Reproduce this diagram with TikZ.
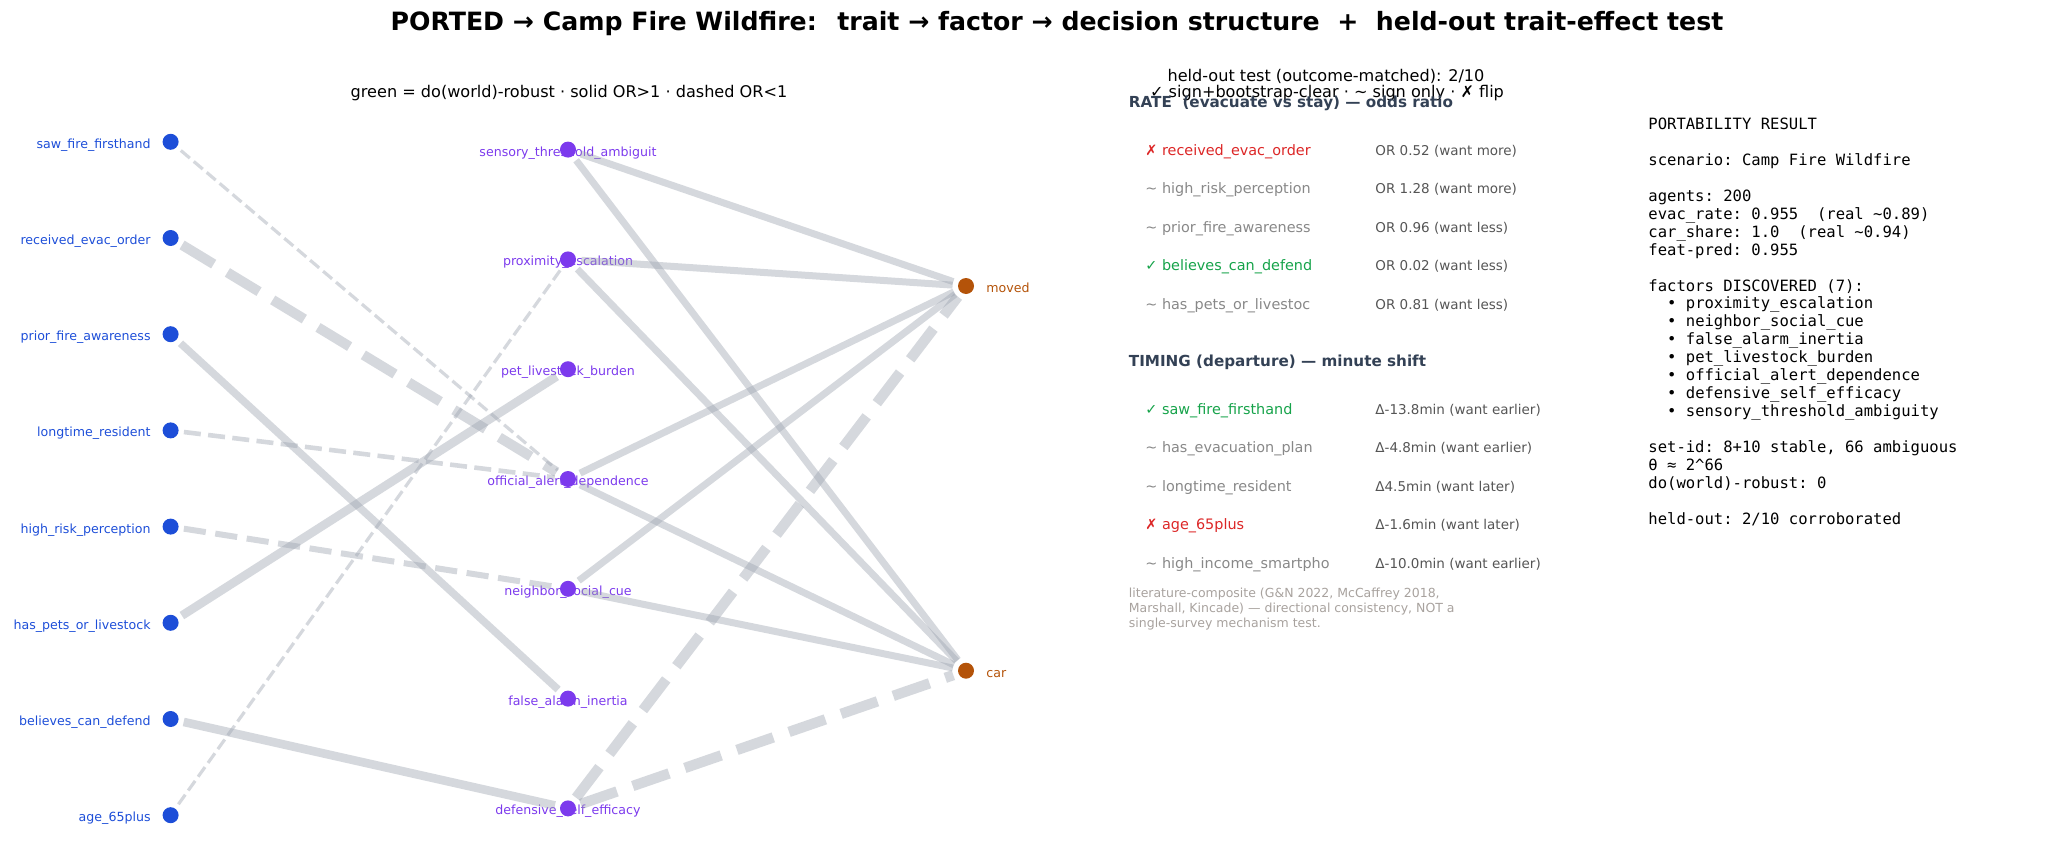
\documentclass[tikz,border=0pt]{standalone}
\usepackage{fontspec}
\setmainfont{DejaVu Sans}
\setmonofont{DejaVu Sans Mono}
\definecolor{traitblue}{HTML}{1D4ED8}
\definecolor{factorpurple}{HTML}{7C3AED}
\definecolor{outcomeorange}{HTML}{B45309}
\definecolor{edgegray}{HTML}{9CA3AF}
\definecolor{headslate}{HTML}{334155}
\definecolor{okgreen}{HTML}{16A34A}
\definecolor{badred}{HTML}{DC2626}
\definecolor{signgray}{HTML}{888888}
\definecolor{valgray}{HTML}{555555}
\definecolor{notegray}{HTML}{A8A29E}
\tikzset{
  dot/.style={circle,inner sep=0pt,minimum size=8pt},
  trait/.style={dot,fill=traitblue},
  factor/.style={dot,fill=factorpurple},
  outcome/.style={dot,fill=outcomeorange},
  lab/.style={inner sep=0pt,font=\fontsize{6.3}{7.5}\selectfont,text height=1.6ex,text depth=.4ex},
  link/.style={draw=edgegray,draw opacity=.42,line width=#1,shorten <=2.5pt,shorten >=2.5pt},
  neg/.style={link=#1,dash pattern=on 3.7*#1 off 1.6*#1},
  head/.style={anchor=west,inner sep=0pt,text=headslate,font=\fontsize{7.6}{9}\selectfont\bfseries},
  rowtxt/.style={anchor=west,inner sep=0pt,font=\fontsize{7.2}{8.6}\selectfont,text height=1.6ex,text depth=.4ex},
  valtxt/.style={anchor=west,inner sep=0pt,text=valgray,font=\fontsize{6.75}{8}\selectfont,text height=1.6ex,text depth=.4ex},
  caption/.style={inner sep=0pt,font=\fontsize{8.05}{9.6}\selectfont}
}

\begin{document}
\begin{tikzpicture}[x=0.5pt,y=-0.5pt]
\useasboundingbox (0,0) rectangle (2058,862);
\node[inner sep=0pt,font=\fontsize{12.6}{15}\selectfont\bfseries] (ttl) at (1057,24)
  {PORTED → Camp Fire Wildfire: \ trait → factor → decision structure \ + \ held-out trait-effect test};
\node[caption] (legend) at (569,93) {green = do(world)-robust · solid OR>1 · dashed OR<1};
\node[caption] (held) at (1326,76) {held-out test (outcome-matched): 2/10};
\node[caption] (key) at (1327,93) {✓ sign+bootstrap-clear · \textasciitilde\ sign only · ✗ flip};

% labels first, dots on top
\foreach \nm [count=\i] in {saw\_fire\_firsthand,received\_evac\_order,prior\_fire\_awareness,longtime\_resident,
  high\_risk\_perception,has\_pets\_or\_livestock,believes\_can\_defend,age\_65plus}
  \node[lab,anchor=east,text=traitblue] (tl\i) at (151,{141.8+(\i-1)*96.2}) {\nm};
\foreach \nm [count=\i] in {sensory\_threshold\_ambiguit,proximity\_escalation,pet\_livestock\_burden,
  official\_alert\_dependence,neighbor\_social\_cue,false\_alarm\_inertia,defensive\_self\_efficacy}
  \node[lab,text=factorpurple] (fl\i) at (568,{149.6+(\i-1)*109.8}) {\nm};
\node[lab,anchor=west,text=outcomeorange] (ml) at (986,286) {moved};
\node[lab,anchor=west,text=outcomeorange] (cl) at (986,670.7) {car};

\foreach \i in {1,...,8}
  \node[trait] (t\i) at (170.6,{141.8+(\i-1)*96.2}) {};
\foreach \i in {1,...,7}
  \node[factor] (f\i) at (568,{149.6+(\i-1)*109.8}) {};
\node[outcome] (moved) at (966,286) {};
\node[outcome] (car) at (966,670.7) {};

% trait -> factor
\draw[neg=1.6pt] (t1) -- (f4);
\draw[neg=5pt] (t2) -- (f4);
\draw[link=3.8pt] (t3) -- (f6);
\draw[neg=2.3pt] (t4) -- (f4);
\draw[neg=3pt] (t5) -- (f5);
\draw[link=4.3pt] (t6) -- (f3);
\draw[link=4.3pt] (t7) -- (f7);
\draw[neg=1.6pt] (t8) -- (f2);

% factor -> outcome
\foreach \f in {1,2,4,5}{
  \draw[link=3.5pt] (f\f) -- (moved);
  \draw[link=3.5pt] (f\f) -- (car);
}
\draw[neg=5.2pt] (f7) -- (moved);
\draw[neg=5.2pt] (f7) -- (car);

% effect tables
\node[head] (rate) at (1128.5,103.5) {RATE \ (evacuate vs stay) — odds ratio};
\foreach \mk/\col/\nm/\val [count=\i] in {
  ✗/badred/received\_evac\_order/OR 0.52 (want more),
  \textasciitilde/signgray/high\_risk\_perception/OR 1.28 (want more),
  \textasciitilde/signgray/prior\_fire\_awareness/OR 0.96 (want less),
  ✓/okgreen/believes\_can\_defend/OR 0.02 (want less),
  \textasciitilde/signgray/has\_pets\_or\_livestoc/OR 0.81 (want less)}{
  \node[rowtxt,text=\col] (r\i) at (1145,{149+(\i-1)*38.4}) {\mk\ \nm};
  \node[valtxt] (v\i) at (1375,{149+(\i-1)*38.4}) {\val};
}
\node[head] (timing) at (1128.5,362.5) {TIMING (departure) — minute shift};
\foreach \mk/\col/\nm/\val [count=\i] in {
  ✓/okgreen/saw\_fire\_firsthand/Δ-13.8min (want earlier),
  \textasciitilde/signgray/has\_evacuation\_plan/Δ-4.8min (want earlier),
  \textasciitilde/signgray/longtime\_resident/Δ4.5min (want later),
  ✗/badred/age\_65plus/Δ-1.6min (want later),
  \textasciitilde/signgray/high\_income\_smartpho/Δ-10.0min (want earlier)}{
  \node[rowtxt,text=\col] (s\i) at (1145,{408+(\i-1)*38.4}) {\mk\ \nm};
  \node[valtxt] (w\i) at (1375,{408+(\i-1)*38.4}) {\val};
}
\node[anchor=west,inner sep=0pt,align=left,text=notegray,font=\fontsize{6.25}{7.5}\selectfont] (note) at (1128.5,609)
  {literature-composite (G\&N 2022, McCaffrey 2018,\\Marshall, Kincade) — directional consistency, NOT a\\single-survey mechanism test.};

% result block
\node[anchor=north west,inner sep=0pt,align=left,font=\fontsize{7.78}{8.97}\selectfont\ttfamily] (result) at (1648,117.6)
  {PORTABILITY RESULT\\[8.97pt]
   scenario: Camp Fire Wildfire\\[8.97pt]
   agents: 200\\
   evac\_rate: 0.955\ \ (real \textasciitilde0.89)\\
   car\_share: 1.0\ \ (real \textasciitilde0.94)\\
   feat-pred: 0.955\\[8.97pt]
   factors DISCOVERED (7):\\
   \ \ • proximity\_escalation\\
   \ \ • neighbor\_social\_cue\\
   \ \ • false\_alarm\_inertia\\
   \ \ • pet\_livestock\_burden\\
   \ \ • official\_alert\_dependence\\
   \ \ • defensive\_self\_efficacy\\
   \ \ • sensory\_threshold\_ambiguity\\[8.97pt]
   set-id: 8+10 stable, 66 ambiguous\\
   θ ≈ 2\textasciicircum66\\
   do(world)-robust: 0\\[8.97pt]
   held-out: 2/10 corroborated};
\end{tikzpicture}
\end{document}
